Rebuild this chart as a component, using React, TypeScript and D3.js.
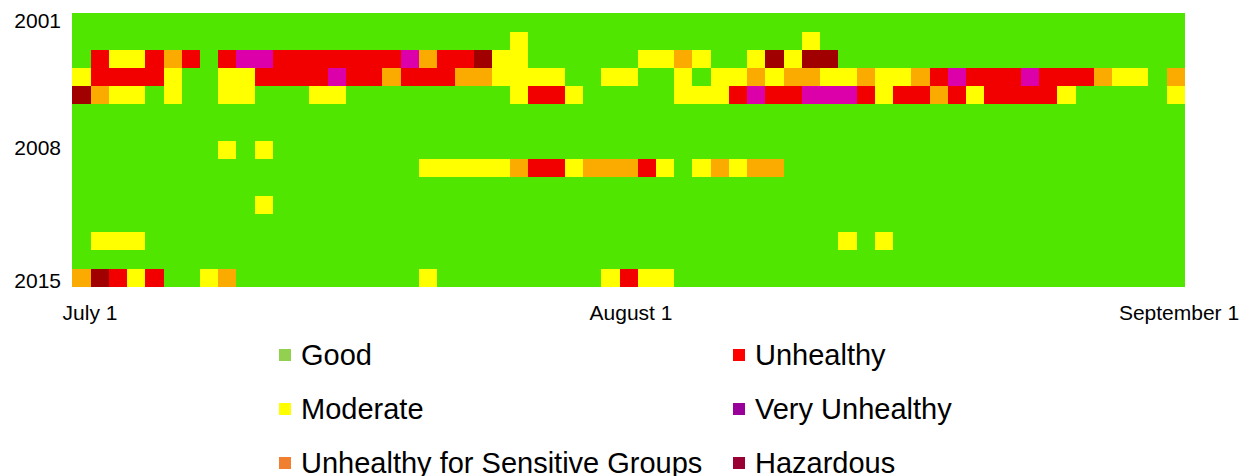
import React from "react";
import * as d3 from "d3";

// AQI category per day (July 1 .. Aug 30, 61 columns), one string per year.
// 0 Good, 1 Moderate, 2 USG, 3 Unhealthy, 4 Very Unhealthy, 5 Hazardous
const years = [2001, 2002, 2003, 2004, 2005, 2006, 2007, 2008, 2009, 2010, 2011, 2012, 2013, 2014, 2015];
const aqiRows = [
  "0000000000 0000000000 0000000000 0000000000 0000000000 0000000000 0",
  "0000000000 0000000000 0000100000 0000000000 1000000000 0000000000 0",
  "0311323034 4333333342 3351100000 0112100151 5500000000 0000000000 0",
  "1333310011 3333433233 3221111001 1001011212 2112112343 3343332110 2",
  "5211010011 0001100000 0000133100 0001113433 4443133231 3333100000 1",
  "0000000000 0000000000 0000000000 0000000000 0000000000 0000000000 0",
  "0000000000 0000000000 0000000000 0000000000 0000000000 0000000000 0",
  "0000000010 1000000000 0000000000 0000000000 0000000000 0000000000 0",
  "0000000000 0000000001 1111233122 2310121220 0000000000 0000000000 0",
  "0000000000 0000000000 0000000000 0000000000 0000000000 0000000000 0",
  "0000000000 1000000000 0000000000 0000000000 0000000000 0000000000 0",
  "0000000000 0000000000 0000000000 0000000000 0000000000 0000000000 0",
  "0111000000 0000000000 0000000000 0000000000 0010100000 0000000000 0",
  "0000000000 0000000000 0000000000 0000000000 0000000000 0000000000 0",
  "2531300120 0000000001 0000000001 3110000000 0000000000 0000000000 0",
];
const categories = ["Good", "Moderate", "Unhealthy for Sensitive Groups", "Unhealthy", "Very Unhealthy", "Hazardous"];
const cellColors = ["#50e600", "#ffff00", "#fbaa00", "#f20000", "#dc00aa", "#a00000"];
const legendColors = ["#92d050", "#ffff00", "#f08030", "#ff0000", "#990099", "#990033"];
const xTickLabels = ["July 1", "August 1", "September 1"];
const xTickDays = [0, 31, 62];
const yTickYears = [2001, 2008, 2015];

const W = 1246;
const H = 476;
const left = 72.3;
const top = 13.3;
const cell = 18.24;

export default function App() {
  const grid = aqiRows.map((s) => s.replace(/\s/g, "").split("").map(Number));
  const nDays = grid[0].length;
  const days = d3.range(nDays);
  const x = d3.scaleBand<number>().domain(days).range([left, left + nDays * cell]).padding(0);
  const y = d3.scaleBand<number>().domain(years).range([top, top + years.length * 18.23]).padding(0);
  const xLabel = d3.scaleLinear().domain([0, 31, 62]).range([90, 631, 1179]);
  const yLabel = d3.scaleLinear().domain([2001, 2008, 2015]).range([20, 147, 280]);
  const color = d3.scaleOrdinal<number, string>().domain(d3.range(6)).range(cellColors);

  const cells: { yr: number; d: number; v: number }[] = [];
  grid.forEach((row, i) => row.forEach((v, d) => cells.push({ yr: years[i], d, v })));

  const legendX = [279, 733];
  const legendY = [355, 409, 463];

  return (
    <svg width={W} height={H} style={{ position: "absolute", left: 0, top: 0 }} fontFamily="'Liberation Sans', Arial, sans-serif">
      <g shapeRendering="crispEdges">
        {cells.map((c) => (
          <rect
            key={c.yr + "-" + c.d}
            x={x(c.d)}
            y={y(c.yr)}
            width={x.bandwidth() + 0.3}
            height={y.bandwidth() + 0.3}
            fill={color(c.v)}
          />
        ))}
      </g>
      <g fontSize={21} fill="#000">
        {yTickYears.map((yr) => (
          <text key={yr} x={61} y={yLabel(yr)} textAnchor="end" dominantBaseline="central">
            {yr}
          </text>
        ))}
        {xTickLabels.map((t, i) => (
          <text key={t} x={xLabel(xTickDays[i])} y={320} textAnchor="middle">
            {t}
          </text>
        ))}
      </g>
      <g fontSize={29} fill="#000">
        {categories.map((c, i) => {
          const col = Math.floor(i / 3);
          const row = i % 3;
          const lx = legendX[col];
          const ly = legendY[row];
          return (
            <g key={c}>
              <rect x={lx} y={ly - 6} width={12} height={12} fill={legendColors[i]} />
              <text x={lx + 22} y={ly} dominantBaseline="central">
                {c}
              </text>
            </g>
          );
        })}
      </g>
    </svg>
  );
}
